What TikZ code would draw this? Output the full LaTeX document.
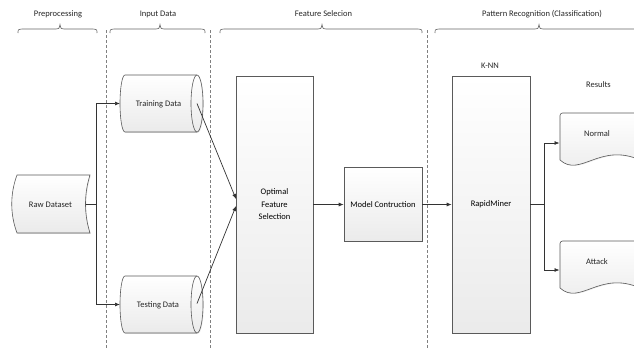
\documentclass[tikz,border=0pt]{standalone}
\usepackage{fontspec}
\setmainfont{Carlito}
\usetikzlibrary{arrows.meta,shapes.geometric,shadows}
\definecolor{linec}{HTML}{5A5A5A}
\definecolor{conc}{HTML}{333333}
\newcommand\mybrace[3]{%
  \draw[bracestyle] (#1,33) .. controls (#1,29.5) .. (#1+4,29) -- (#3-4,29)
    .. controls (#3-1,29) .. (#3,24.5) .. controls (#3+1,29) .. (#3+4,29)
    -- (#2-4,29) .. controls (#2,29.5) .. (#2,33);}
% cylinder drawn in local coordinates, centre at origin
\newcommand\mycyl{%
  \path[shapebox] (-36.5,-28.5) -- (35.5,-28.5)
    .. controls (38.8,-28.5) and (41.5,-15.7) .. (41.5,0)
    .. controls (41.5,15.7) and (38.8,28.5) .. (35.5,28.5)
    -- (-36.5,28.5)
    .. controls (-39.3,28.5) and (-41.5,15.7) .. (-41.5,0)
    .. controls (-41.5,-15.7) and (-39.3,-28.5) .. (-36.5,-28.5) -- cycle;
  \draw[draw=linec, line width=0.6pt] (35.5,-28.5)
    .. controls (32.2,-28.5) and (29.5,-15.7) .. (29.5,0)
    .. controls (29.5,15.7) and (32.2,28.5) .. (35.5,28.5);}
\tikzset{
  shapebox/.style={draw=linec, line width=0.6pt, top color=white, bottom color=gray!16,
    drop shadow={shadow xshift=0.8pt, shadow yshift=-0.8pt, opacity=0.18}},
  rectbox/.style={shapebox, rectangle, inner sep=0pt, align=center},
  conn/.style={draw=conc, line width=0.7pt},
  arr/.style={conn, -{Latex[length=5pt,width=4pt]}},
  sepline/.style={draw=gray, densely dashed, line width=0.5pt},
  bracestyle/.style={draw=gray!80!black, line width=0.6pt},
  lbl/.style={inner sep=0pt, text=black!85}
}
\begin{document}
\begin{tikzpicture}[x=1pt,y=-1pt,font=\fontsize{8.5}{12.5}\selectfont]
\useasboundingbox (0,0) rectangle (634,349);
\clip (0,0) rectangle (634,349);

% section labels and braces
\node[lbl] (lPre) at (58,14) {Preprocessing};
\node[lbl] (lIn) at (158,14) {Input Data};
\node[lbl] (lFeat) at (323.5,14) {Feature Selecion};
\node[lbl] (lPat) at (542,14) {Pattern Recognition (Classification)};
\mybrace{18}{97}{60}
\mybrace{110}{205}{160}
\mybrace{220}{422}{322}
\mybrace{435}{660}{539}

% separators
\draw[sepline] (106,30) -- (106,349);
\draw[sepline] (210.5,30) -- (210.5,349);
\draw[sepline] (427,30) -- (427,349);

% Raw dataset
\path[shapebox] (17,175) -- (90,175) .. controls (84,194) and (84,214) .. (90,233)
  -- (17,233) .. controls (10,214) and (10,194) .. (17,175) -- cycle;
\node[lbl] (raw) at (50.5,204.5) {Raw Dataset};
\coordinate (rawE) at (85.5,204);
\coordinate (spl) at (96,204);

% cylinders
\begin{scope}[shift={(161.5,103.5)}]
  \mycyl
  \coordinate (trainW) at (-41.5,0);
  \coordinate (trOut) at (35.5,0);
\end{scope}
\begin{scope}[shift={(161.5,304.5)}]
  \mycyl
  \coordinate (testW) at (-41.5,0);
  \coordinate (teOut) at (35.5,-1);
\end{scope}
\node[lbl] (train) at (158.5,104.5) {Training Data};
\node[lbl] (test) at (158,305) {Testing Data};

% boxes
\node[rectbox, minimum width=77pt, minimum height=257pt] (ofs) at (274.5,204.5) {Optimal\\Feature\\Selection};
\node[rectbox, minimum width=78pt, minimum height=74pt] (mc) at (383,204.5) {Model Contruction};
\node[rectbox, minimum width=78pt, minimum height=257pt] (rm) at (491,204.5) {RapidMiner};
\node[lbl] (knn) at (490,66) {K-NN};
\coordinate (ofsIn1) at (236,199);
\coordinate (ofsIn2) at (236,206);

% documents
\path[shapebox] (560,160) [rounded corners=2.5pt] -- (560,113) -- (645,113) [sharp corners] -- (640,113) -- (640,160)
  .. controls (600,142) and (580,178) .. (560,160) -- cycle;
\path[shapebox] (560,288) [rounded corners=2.5pt] -- (560,241) -- (645,241) [sharp corners] -- (640,241) -- (640,288)
  .. controls (600,270) and (580,306) .. (560,288) -- cycle;
\node[lbl] (normal) at (597,134) {Normal};
\node[lbl] (attack) at (597,262) {Attack};
\node[lbl] (res) at (598.5,85) {Results};
\coordinate (nIn) at (559.5,143);
\coordinate (aIn) at (559.5,270);
\coordinate (brk) at (544,204.5);

% connectors
\draw[conn] (rawE) -- (spl);
\draw[arr] (spl) |- (trainW);
\draw[arr] (spl) |- (testW);
\draw[arr] (trOut) -- (ofsIn1);
\draw[arr] (teOut) -- (ofsIn2);
\draw[arr] (ofs.east) -- (mc.west);
\draw[arr] (mc.east) -- (rm.west);
\draw[conn] (rm.east) -- (brk);
\draw[arr] (brk) |- (nIn);
\draw[arr] (brk) |- (aIn);
\end{tikzpicture}
\end{document}
